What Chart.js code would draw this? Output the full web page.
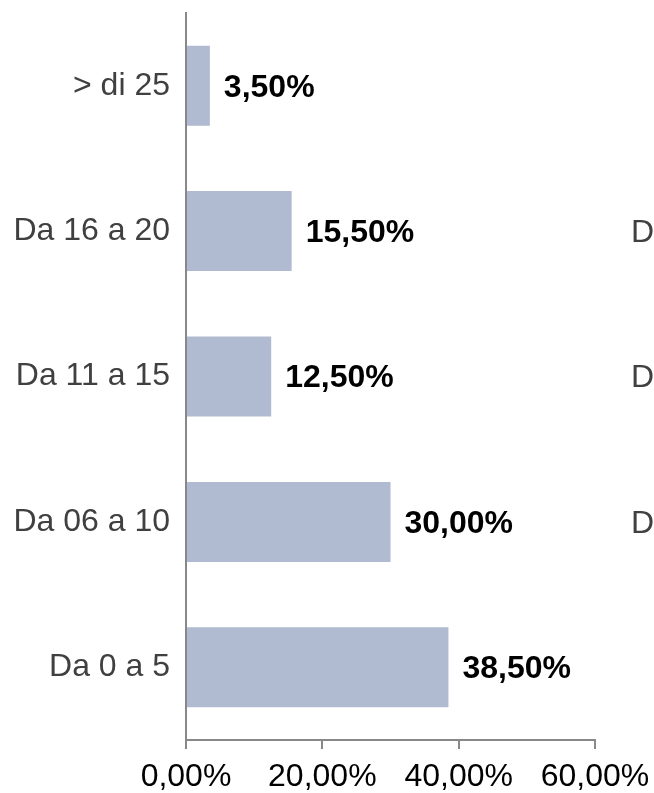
<!DOCTYPE html>
<html>
<head>
<meta charset="utf-8">
<script src="https://cdn.jsdelivr.net/npm/chart.js@4/dist/chart.umd.min.js"></script>
<style>
  html, body { margin: 0; padding: 0; background: #fff; }
  #wrap { width: 654px; height: 793px; }
</style>
</head>
<body>
<div id="wrap"><canvas id="myChart" width="654" height="793"></canvas></div>
<script>
// data
const categories = ['> di 25', 'Da 16 a 20', 'Da 11 a 15', 'Da 06 a 10', 'Da 0 a 5'];
const values = [3.5, 15.5, 12.5, 30.0, 38.5];
const xTicks = [0, 20, 40, 60];
// clipped labels of the neighbouring chart, cut by the right edge
const sideLabels = ['', 'Da', 'Da', 'Da', ''];

const FONT = 'Arial, "Liberation Sans", sans-serif';

function pct(v) {
    return v.toFixed(2).replace('.', ',') + '%';
}

const valueLabels = {
    id: 'valueLabels',
    afterDatasetsDraw: function(chart) {
        const ctx = chart.ctx;
        const meta = chart.getDatasetMeta(0);
        ctx.save();
        ctx.font = 'bold 32px ' + FONT;
        ctx.fillStyle = '#000';
        ctx.textAlign = 'left';
        ctx.textBaseline = 'middle';
        meta.data.forEach(function(bar, i) {
            ctx.fillText(pct(values[i]), bar.x + 14, bar.y + 2);
        });
        // cut off text at the right edge
        ctx.font = '32px ' + FONT;
        ctx.fillStyle = '#404040';
        meta.data.forEach(function(bar, i) {
            if (sideLabels[i]) {
                ctx.fillText(sideLabels[i], 631, bar.y + 2);
            }
        });
        ctx.restore();
    }
};

const ctx = document.getElementById('myChart').getContext('2d');
const myChart = new Chart(ctx, {
    type: 'bar',
    data: {
        labels: categories,
        datasets: [{
            data: values,
            backgroundColor: '#b0bad0',
            borderWidth: 0,
            categoryPercentage: 1,
            barPercentage: 0.55
        }]
    },
    options: {
        indexAxis: 'y',
        responsive: false,
        animation: false,
        layout: {
            padding: { left: 0, right: 59, top: 13, bottom: 0 }
        },
        plugins: {
            legend: { display: false },
            tooltip: { enabled: false }
        },
        scales: {
            x: {
                min: 0,
                max: 60,
                afterBuildTicks: function(scale) {
                    scale.ticks = xTicks.map(function(v) { return { value: v }; });
                },
                afterFit: function(scale) {
                    scale.height = 53;
                    scale.paddingLeft = 0;
                    scale.paddingRight = 0;
                },
                grid: {
                    drawOnChartArea: false,
                    drawTicks: true,
                    tickLength: 9,
                    color: '#888',
                    lineWidth: 2
                },
                border: { display: true, color: '#888', width: 2 },
                ticks: {
                    padding: 9,
                    color: '#000',
                    font: { family: FONT, size: 32 },
                    maxRotation: 0,
                    callback: function(v) { return pct(v); }
                }
            },
            y: {
                afterFit: function(scale) {
                    scale.width = 186;
                    scale.paddingTop = 0;
                    scale.paddingBottom = 0;
                },
                grid: { display: false },
                border: { display: true, color: '#888', width: 2 },
                ticks: {
                    padding: 8,
                    color: '#404040',
                    font: { family: FONT, size: 32 }
                }
            }
        }
    },
    plugins: [valueLabels]
});
</script>
</body>
</html>
